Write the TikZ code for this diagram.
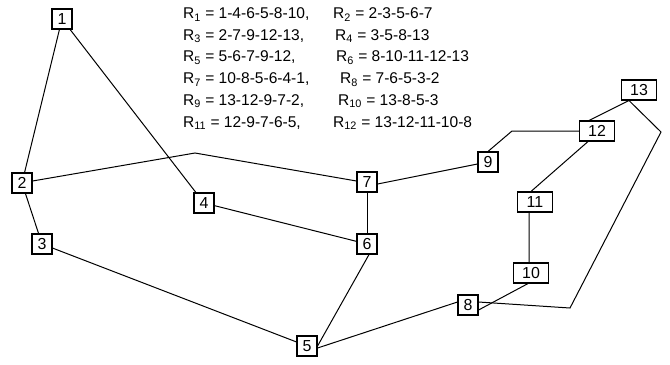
\documentclass[tikz,border=0pt]{standalone}
\usepackage{fontspec}
\setmainfont{Liberation Sans}
\begin{document}
\begin{tikzpicture}[x=1bp,y=-1bp,
  box/.style={draw,line width=1.1bp,minimum width=20bp,minimum height=20bp,inner sep=0pt,font=\fontsize{16}{18}\selectfont},
  widebox/.style={box,minimum width=35bp},
  link/.style={line width=1bp},
  route/.style={anchor=base west,inner sep=0pt,font=\fontsize{15.6}{19}\selectfont}]
\useasboundingbox (0,0) rectangle (670,364);

% stations
\node[box] (n1) at (62,19) {1};
\node[box] (n2) at (22,183) {2};
\node[box] (n3) at (42,244) {3};
\node[box] (n4) at (204,203) {4};
\node[box] (n5) at (307,346) {5};
\node[box] (n6) at (367,244) {6};
\node[box] (n7) at (367,182) {7};
\node[box] (n8) at (468,305) {8};
\node[box] (n9) at (488,162) {9};
\node[widebox] (n10) at (531,273) {10};
\node[widebox] (n11) at (535,202) {11};
\node[widebox] (n12) at (597,131) {12};
\node[widebox] (n13) at (639,90) {13};

% bends of the polyline links
\coordinate (b27) at (195,153);
\coordinate (b912) at (512,131);
\coordinate (b13a) at (661,132);
\coordinate (b13b) at (570,308);

% links
\draw[link] (n1) -- (n2);
\draw[link] (n1) -- (n4);
\draw[link] (n2) -- (n3);
\draw[link] (n3) -- (n5);
\draw[link] (n4) -- (n6);
\draw[link] (n7) -- (n6);
\draw[link] ([xshift=2bp]n6.south) -- (n5.east);
\draw[link] ([yshift=-2bp]n5.east) -- ([yshift=3bp]n8.west);
\draw[link] ([yshift=2bp]n2.east) -- (b27) -- ([yshift=1bp]n7.west);
\draw[link] ([yshift=-2bp]n7.east) -- ([yshift=-2bp]n9.west);
\draw[link] (n9.north) -- (b912) -- (n12.west);
\draw[link] ([xshift=-8bp]n12.north) -- ([xshift=-10bp]n13.south);
\draw[link] ([xshift=-10bp]n13.south) -- (b13a) -- (b13b) -- ([yshift=3bp]n8.east);
\draw[link] ([xshift=-9bp]n12.south) -- ([xshift=-4bp]n11.north);
\draw[link] ([xshift=-6bp]n11.south) -- ([xshift=-2bp]n10.north);
\draw[link] ([xshift=-3bp]n10.south) -- ([yshift=-5bp]n8.east);

% route list
\node[route] (r1) at (183,18.5) {R\textsubscript{1} = 1-4-6-5-8-10,};
\node[route] (r2) at (333,18.5) {R\textsubscript{2} = 2-3-5-6-7};
\node[route] (r3) at (183,40.2) {R\textsubscript{3} = 2-7-9-12-13,};
\node[route] (r4) at (335,40.2) {R\textsubscript{4} = 3-5-8-13};
\node[route] (r5) at (183,61.9) {R\textsubscript{5} = 5-6-7-9-12,};
\node[route] (r6) at (336,61.9) {R\textsubscript{6} = 8-10-11-12-13};
\node[route] (r7) at (183,83.6) {R\textsubscript{7} = 10-8-5-6-4-1,};
\node[route] (r8) at (340,83.6) {R\textsubscript{8} = 7-6-5-3-2};
\node[route] (r9) at (183,105.3) {R\textsubscript{9} = 13-12-9-7-2,};
\node[route] (r10) at (338,105.3) {R\textsubscript{10} = 13-8-5-3};
\node[route] (r11) at (183,127) {R\textsubscript{11} = 12-9-7-6-5,};
\node[route] (r12) at (333,127) {R\textsubscript{12} = 13-12-11-10-8};
\end{tikzpicture}
\end{document}
